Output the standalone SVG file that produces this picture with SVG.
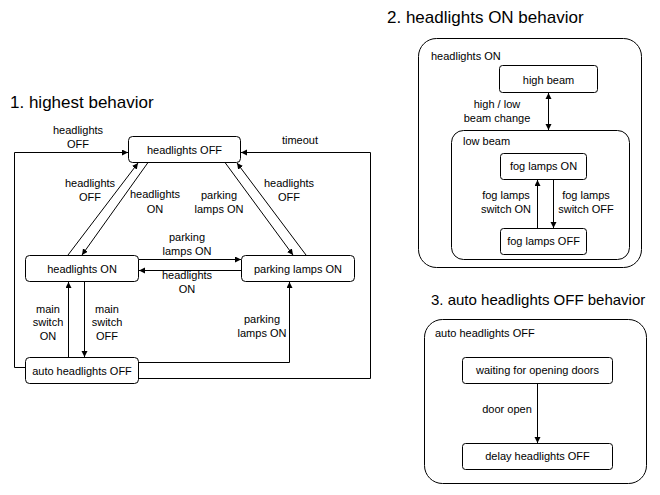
<svg xmlns="http://www.w3.org/2000/svg" width="660" height="495" viewBox="0 0 660 495">
  <style>
    text { font-family: "Liberation Sans", Arial, sans-serif; font-size: 11px; fill: #000; }
    .title { font-size: 17px; }
    .title-s { font-size: 15px; }
    .c { text-anchor: middle; }
    .box { fill: #fff; stroke: #000; stroke-width: 1; }
    .edge { fill: none; stroke: #000; stroke-width: 1; }
    .arr { marker-end: url(#ah); }
  </style>
  <defs>
    <marker id="ah" markerUnits="userSpaceOnUse" markerWidth="7" markerHeight="7" refX="6" refY="3" orient="auto">
      <path d="M0,0 L6,3 L0,6 z" fill="#000"/>
    </marker>
    <marker id="ahs" markerUnits="userSpaceOnUse" markerWidth="7" markerHeight="7" refX="0" refY="3" orient="auto">
      <path d="M6,0 L0,3 L6,6 z" fill="#000"/>
    </marker>
  </defs>

  <!-- 1. top-level state machine -->
  <text class="title" x="10" y="108">1. highest behavior</text>

  <g id="connectors-1">
    <path class="edge arr" d="M25.5,367.5 H14.5 V152.5 H128"/>
    <path class="edge arr" d="M138.5,378.5 H370.5 V152.5 H241"/>
    <path class="edge arr" d="M138.5,362.5 H289.5 V282"/>
    <path class="edge arr" d="M68.5,357 V282"/>
    <path class="edge arr" d="M84.5,282 V357"/>
    <path class="edge arr" d="M138.5,259.5 H241"/>
    <path class="edge arr" d="M241.5,270.5 H139"/>
    <path class="edge arr" d="M68,255 L138,163"/>
    <path class="edge arr" d="M148,162.5 L82,255"/>
    <path class="edge arr" d="M225,162.5 L293,255"/>
    <path class="edge arr" d="M306,255 L237,163"/>

    <text class="c" x="78" y="134">headlights</text>
    <text class="c" x="78" y="148">OFF</text>
    <text class="c" x="300" y="144">timeout</text>
    <text class="c" x="90" y="187">headlights</text>
    <text class="c" x="90" y="201">OFF</text>
    <text class="c" x="155" y="198">headlights</text>
    <text class="c" x="155" y="213">ON</text>
    <text class="c" x="219" y="199">parking</text>
    <text class="c" x="219" y="213">lamps ON</text>
    <text class="c" x="289" y="187">headlights</text>
    <text class="c" x="289" y="201">OFF</text>
    <text class="c" x="187" y="241">parking</text>
    <text class="c" x="187" y="255">lamps ON</text>
    <text class="c" x="187" y="279">headlights</text>
    <text class="c" x="187" y="293">ON</text>
    <text class="c" x="48" y="313">main</text>
    <text class="c" x="48" y="326">switch</text>
    <text class="c" x="48" y="340">ON</text>
    <text class="c" x="107" y="313">main</text>
    <text class="c" x="107" y="326">switch</text>
    <text class="c" x="107" y="340">OFF</text>
    <text class="c" x="262" y="323">parking</text>
    <text class="c" x="262" y="337">lamps ON</text>
  </g>

  <g id="headlights-off">
    <rect class="box" x="128.5" y="136.5" width="112" height="26" rx="4"/>
    <text class="c" x="184.5" y="154">headlights OFF</text>
  </g>
  <g id="headlights-on">
    <rect class="box" x="25.5" y="255.5" width="113" height="26" rx="4"/>
    <text class="c" x="82" y="273">headlights ON</text>
  </g>
  <g id="parking-lamps-on">
    <rect class="box" x="241.5" y="255.5" width="113" height="26" rx="4"/>
    <text class="c" x="298" y="273">parking lamps ON</text>
  </g>
  <g id="auto-headlights-off">
    <rect class="box" x="25.5" y="357.5" width="113" height="26" rx="4"/>
    <text class="c" x="82" y="375">auto headlights OFF</text>
  </g>

  <!-- 2. headlights ON sub-machine -->
  <text class="title" x="387" y="23">2. headlights ON behavior</text>
  <g id="headlights-on-composite">
    <rect class="box" x="418.5" y="38.5" width="223" height="229" rx="18"/>
    <text x="431" y="60">headlights ON</text>
  </g>
  <g id="high-beam">
    <rect class="box" x="499.5" y="65.5" width="98" height="27" rx="3"/>
    <text class="c" x="548.5" y="84">high beam</text>
  </g>
  <g id="low-beam">
    <rect class="box" x="451.5" y="130.5" width="178" height="129" rx="12"/>
    <text x="463" y="145">low beam</text>
  </g>
  <g id="fog-lamps-on">
    <rect class="box" x="500.5" y="153.5" width="86" height="26" rx="3"/>
    <text class="c" x="543.5" y="170">fog lamps ON</text>
  </g>
  <g id="fog-lamps-off">
    <rect class="box" x="500.5" y="228.5" width="86" height="26" rx="3"/>
    <text class="c" x="543.5" y="245">fog lamps OFF</text>
  </g>
  <g id="connectors-2">
    <path class="edge" d="M548.5,93 V130" marker-start="url(#ahs)" marker-end="url(#ah)"/>
    <path class="edge arr" d="M537.5,228 V180"/>
    <path class="edge arr" d="M553.5,180 V228"/>
    <text class="c" x="497" y="108">high / low</text>
    <text class="c" x="497" y="122">beam change</text>
    <text class="c" x="506" y="199">fog lamps</text>
    <text class="c" x="506" y="213">switch ON</text>
    <text class="c" x="586" y="199">fog lamps</text>
    <text class="c" x="586" y="213">switch OFF</text>
  </g>

  <!-- 3. auto headlights OFF sub-machine -->
  <text class="title title-s" x="431" y="305">3. auto headlights OFF behavior</text>
  <g id="auto-headlights-off-composite">
    <rect class="box" x="424.5" y="319.5" width="222" height="164" rx="18"/>
    <text x="435" y="337">auto headlights OFF</text>
  </g>
  <g id="waiting-for-opening-doors">
    <rect class="box" x="462.5" y="357.5" width="150" height="26" rx="3"/>
    <text class="c" x="537.5" y="374">waiting for opening doors</text>
  </g>
  <g id="delay-headlights-off">
    <rect class="box" x="462.5" y="443.5" width="150" height="26" rx="3"/>
    <text class="c" x="537.5" y="460">delay headlights OFF</text>
  </g>
  <g id="connectors-3">
    <path class="edge arr" d="M537.5,384 V443"/>
    <text class="c" x="507" y="413">door open</text>
  </g>
</svg>
